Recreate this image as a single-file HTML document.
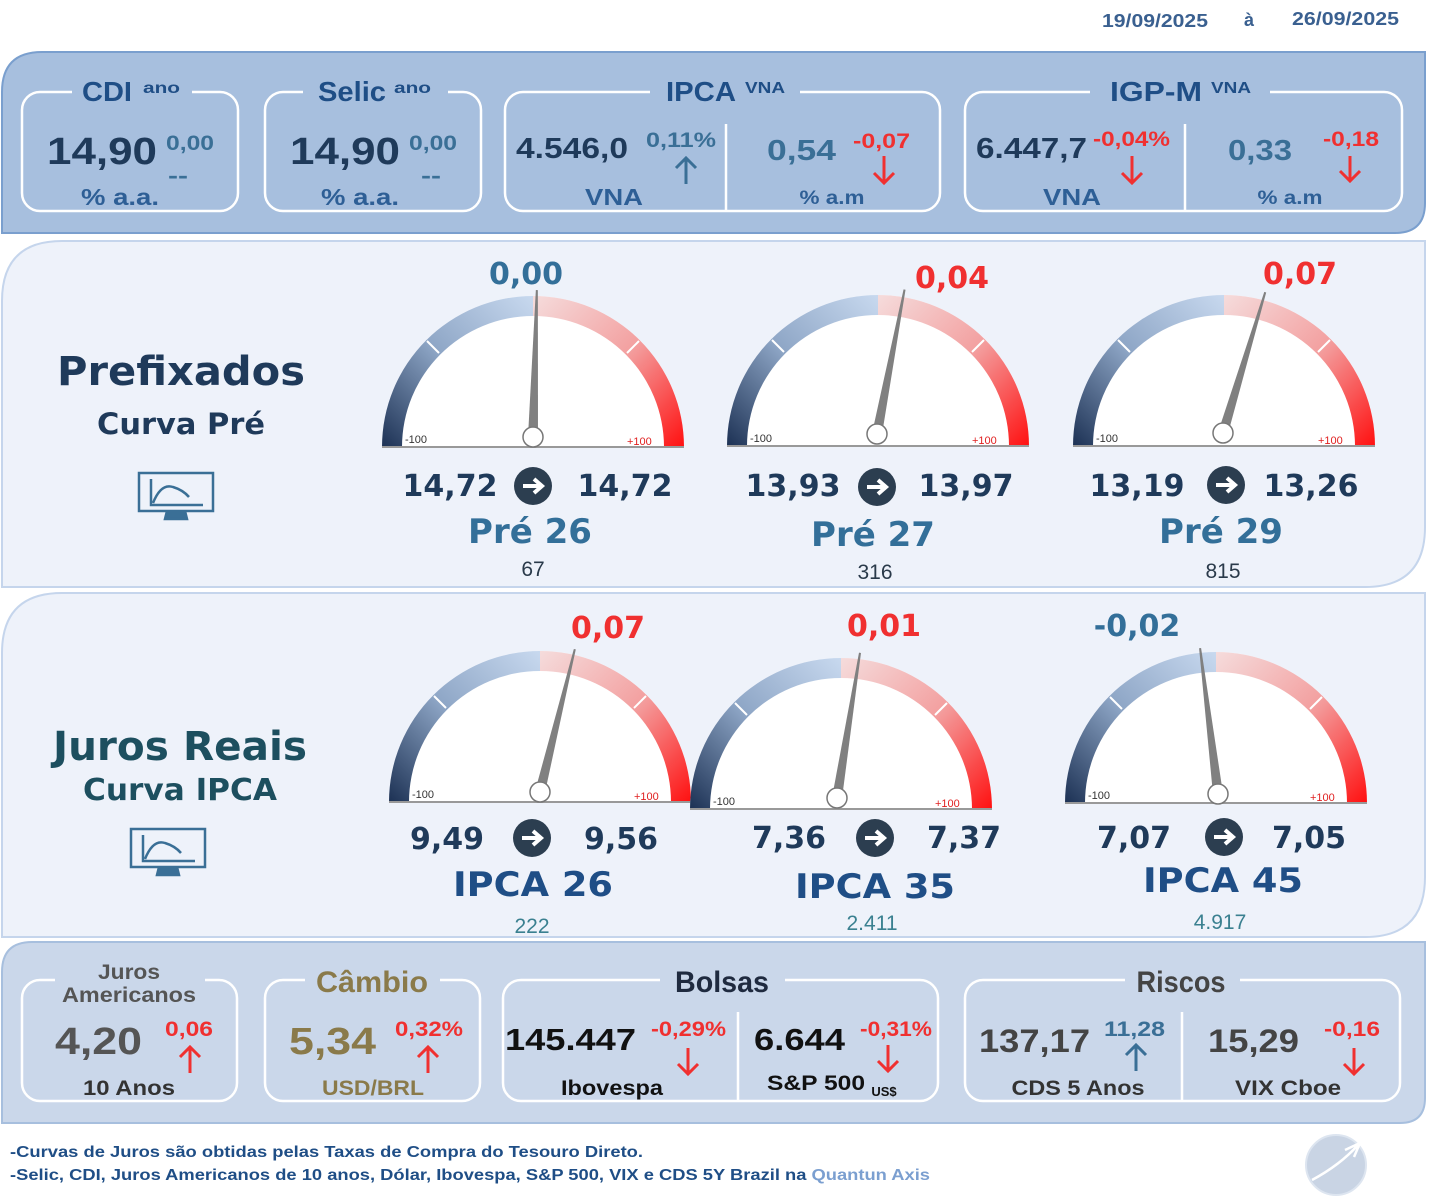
<!DOCTYPE html>
<html><head><meta charset="utf-8"><style>
html,body{margin:0;padding:0;background:#fff;}
svg{display:block;}
.n{font-family:"Liberation Sans Narrow","Liberation Sans",sans-serif;font-weight:bold;}
.a{font-family:"Liberation Sans",sans-serif;font-weight:bold;}
.d{font-family:"DejaVu Sans",sans-serif;font-weight:bold;}
.r{font-family:"Liberation Sans",sans-serif;}
</style></head><body>
<svg width="1448" height="1201" viewBox="0 0 1448 1201" xmlns="http://www.w3.org/2000/svg">
<defs>
<linearGradient id="lb" x1="0" y1="1" x2="1" y2="0"><stop offset="0" stop-color="#1c3154"/><stop offset="0.5" stop-color="#8ea6c6"/><stop offset="1" stop-color="#c8d9ef"/></linearGradient>
<linearGradient id="rr" x1="0" y1="0" x2="1" y2="1"><stop offset="0" stop-color="#f5dcdc"/><stop offset="0.5" stop-color="#f3a0a0"/><stop offset="1" stop-color="#ff1010"/></linearGradient>
<g id="gauge">
<path d="M-151 0 A151 151 0 0 1 151 0 Z" fill="#fff"/>
<path d="M-151 0 A151 151 0 0 1 0 -151 L0 -131 A131 131 0 0 0 -131 0 Z" fill="url(#lb)"/>
<path d="M0 -151 A151 151 0 0 1 151 0 L131 0 A131 131 0 0 0 0 -131 Z" fill="url(#rr)"/>
<line x1="-106" y1="-106" x2="-94" y2="-94" stroke="#fff" stroke-width="2"/>
<line x1="106" y1="-106" x2="94" y2="-94" stroke="#fff" stroke-width="2"/>
<line x1="-151" y1="0" x2="151" y2="0" stroke="#999" stroke-width="2"/>
<text x="-128" y="-4" font-size="11" fill="#333" class="r">-100</text>
<text x="94" y="-2" font-size="11" fill="#e02020" class="r">+100</text>
</g>
<g id="needle">
<polygon points="-5,-10 5,-10 1,-157 -1,-157" fill="#808080"/>
</g>
<g id="mon" fill="none" stroke="#3a6f96" stroke-width="2.5">
<rect x="0" y="0" width="74" height="38"/>
<path d="M12 6 V32 H64 M14 30 Q22 10 34 14 Q44 17 50 24"/>
<path d="M28 38 L26 46 H48 L46 38" fill="#3a6f96"/>
</g>
<g id="arr"><circle r="19" fill="#2c3e50"/><path d="M-10 0 H8 M1 -7 L9 0 L1 7" stroke="#fff" stroke-width="4" fill="none"/></g>
</defs>

<!-- header -->
<text x="1102" y="27" font-size="18" fill="#3a6090" class="a" textLength="106" lengthAdjust="spacingAndGlyphs">19/09/2025</text>
<text x="1244" y="26" font-size="18" fill="#3a6090" class="a">à</text>
<text x="1292" y="25" font-size="18" fill="#3a6090" class="a" textLength="107" lengthAdjust="spacingAndGlyphs">26/09/2025</text>

<!-- top panel -->
<path d="M42 52 H1425 V203 Q1425 233 1395 233 H2 V92 Q2 52 42 52 Z" fill="#a7bfde" stroke="#7a9fce" stroke-width="2"/>
<g fill="none" stroke="#fff" stroke-width="2.5">
<rect x="22" y="92" width="216" height="119" rx="18"/>
<rect x="265" y="92" width="216" height="119" rx="18"/>
<rect x="505" y="92" width="435" height="119" rx="18"/>
<rect x="965" y="92" width="437" height="119" rx="18"/>
<line x1="726" y1="124" x2="726" y2="210"/>
<line x1="1185" y1="124" x2="1185" y2="210"/>
</g>
<g fill="#a7bfde">
<rect x="72" y="82" width="120" height="20"/><rect x="303" y="82" width="145" height="20"/>
<rect x="650" y="82" width="150" height="20"/><rect x="1090" y="82" width="180" height="20"/>
</g>
<g class="n" fill="#1f4e86" lengthAdjust="spacingAndGlyphs">
<text x="82" y="101" font-size="28" textLength="50" lengthAdjust="spacingAndGlyphs">CDI</text><text x="143" y="93" font-size="16" textLength="37" lengthAdjust="spacingAndGlyphs">ano</text>
<text x="318" y="101" font-size="28" textLength="68" lengthAdjust="spacingAndGlyphs">Selic</text><text x="394" y="93" font-size="16" textLength="37" lengthAdjust="spacingAndGlyphs">ano</text>
<text x="666" y="101" font-size="28" textLength="70" lengthAdjust="spacingAndGlyphs">IPCA</text><text x="745" y="93" font-size="16" textLength="40" lengthAdjust="spacingAndGlyphs">VNA</text>
<text x="1110" y="101" font-size="28" textLength="92" lengthAdjust="spacingAndGlyphs">IGP-M</text><text x="1211" y="93" font-size="16" textLength="40" lengthAdjust="spacingAndGlyphs">VNA</text>
</g>
<g class="a" fill="#1f3a5a">
<text x="47" y="164" font-size="38" textLength="110" lengthAdjust="spacingAndGlyphs">14,90</text>
<text x="290" y="164" font-size="38" textLength="110" lengthAdjust="spacingAndGlyphs">14,90</text>
<text x="516" y="158" font-size="29" textLength="112" lengthAdjust="spacingAndGlyphs">4.546,0</text>
<text x="976" y="158" font-size="29" textLength="111" lengthAdjust="spacingAndGlyphs">6.447,7</text>
</g>
<g class="a" fill="#3a6f96">
<text x="166" y="150" font-size="21" textLength="48" lengthAdjust="spacingAndGlyphs">0,00</text><text x="168" y="183" font-size="22" textLength="20" lengthAdjust="spacingAndGlyphs">--</text>
<text x="409" y="150" font-size="21" textLength="48" lengthAdjust="spacingAndGlyphs">0,00</text><text x="421" y="183" font-size="22" textLength="20" lengthAdjust="spacingAndGlyphs">--</text>
<text x="646" y="147" font-size="21" textLength="70" lengthAdjust="spacingAndGlyphs">0,11%</text>
<text x="767" y="160" font-size="29" textLength="69" lengthAdjust="spacingAndGlyphs">0,54</text>
<text x="1228" y="160" font-size="29" textLength="64" lengthAdjust="spacingAndGlyphs">0,33</text>
</g>
<g class="a" fill="#2e5f96" text-anchor="middle">
<text x="120" y="205" font-size="23" textLength="78" lengthAdjust="spacingAndGlyphs">% a.a.</text>
<text x="360" y="205" font-size="23" textLength="78" lengthAdjust="spacingAndGlyphs">% a.a.</text>
<text x="614" y="205" font-size="23" textLength="58" lengthAdjust="spacingAndGlyphs">VNA</text>
<text x="832" y="204" font-size="19" textLength="65" lengthAdjust="spacingAndGlyphs">% a.m</text>
<text x="1072" y="205" font-size="23" textLength="58" lengthAdjust="spacingAndGlyphs">VNA</text>
<text x="1290" y="204" font-size="19" textLength="65" lengthAdjust="spacingAndGlyphs">% a.m</text>
</g>
<g class="a" fill="#f03030">
<text x="853" y="148" font-size="21" textLength="57" lengthAdjust="spacingAndGlyphs">-0,07</text>
<text x="1093" y="146" font-size="21" textLength="77" lengthAdjust="spacingAndGlyphs">-0,04%</text>
<text x="1323" y="146" font-size="21" textLength="56" lengthAdjust="spacingAndGlyphs">-0,18</text>
</g>
<g fill="none" stroke-width="3">
<path d="M686 184 V158 M676 168 L686 158 L696 168" stroke="#3a6f96"/>
<path d="M884 156 V183 M874 173 L884 183 L894 173" stroke="#f03030"/>
<path d="M1132 156 V183 M1122 173 L1132 183 L1142 173" stroke="#f03030"/>
<path d="M1350 156 V181 M1340 171 L1350 181 L1360 171" stroke="#f03030"/>
</g>

<!-- panel 1 -->
<path d="M62 241 H1425 V527 Q1425 587 1365 587 H2 V301 Q2 241 62 241 Z" fill="#eef2fa" stroke="#c5d5ec" stroke-width="2"/>
<text x="181" y="385" font-size="40" fill="#1f3a5a" class="d" text-anchor="middle" textLength="248" lengthAdjust="spacingAndGlyphs">Prefixados</text>
<text x="181" y="434" font-size="29" fill="#1f3a5a" class="d" text-anchor="middle" textLength="168" lengthAdjust="spacingAndGlyphs">Curva Pré</text>
<use href="#mon" x="139" y="473"/>

<use href="#gauge" x="533" y="447"/>
<use href="#needle" transform="translate(533 447) rotate(1.5 0 -10)"/>
<circle cx="533" cy="437" r="10" fill="#fff" stroke="#777" stroke-width="1.5"/>
<use href="#gauge" x="878" y="446"/>
<use href="#needle" transform="translate(877 444) rotate(10.8 0 -10)"/>
<circle cx="877" cy="434" r="10" fill="#fff" stroke="#777" stroke-width="1.5"/>
<use href="#gauge" x="1224" y="446"/>
<use href="#needle" transform="translate(1223 443) rotate(16.7 0 -10)"/>
<circle cx="1223" cy="433" r="10" fill="#fff" stroke="#777" stroke-width="1.5"/>

<g class="d" font-size="30" text-anchor="middle">
<text x="526" y="284" fill="#336f99">0,00</text>
<text x="952" y="288" fill="#f03030">0,04</text>
<text x="1300" y="284" fill="#f03030">0,07</text>
</g>
<g class="d" font-size="30" fill="#1f3a5a" text-anchor="middle">
<text x="450" y="496">14,72</text><text x="625" y="496">14,72</text>
<text x="793" y="496">13,93</text><text x="966" y="496">13,97</text>
<text x="1137" y="496">13,19</text><text x="1311" y="496">13,26</text>
</g>
<use href="#arr" x="533" y="486"/><use href="#arr" x="877" y="487"/><use href="#arr" x="1226" y="485"/>
<g class="d" font-size="34" fill="#336f99" text-anchor="middle">
<text x="530" y="543">Pré 26</text><text x="873" y="546">Pré 27</text><text x="1221" y="543">Pré 29</text>
</g>
<g class="r" font-size="21" fill="#2a3a4a" text-anchor="middle">
<text x="533" y="576">67</text><text x="875" y="579">316</text><text x="1223" y="578">815</text>
</g>

<!-- panel 2 -->
<path d="M62 593 H1425 V877 Q1425 937 1365 937 H2 V653 Q2 593 62 593 Z" fill="#eef2fa" stroke="#c5d5ec" stroke-width="2"/>
<text x="180" y="760" font-size="40" fill="#1d4f5f" class="d" text-anchor="middle" textLength="254" lengthAdjust="spacingAndGlyphs">Juros Reais</text>
<text x="180" y="800" font-size="30" fill="#1d4f5f" class="d" text-anchor="middle" textLength="194" lengthAdjust="spacingAndGlyphs">Curva IPCA</text>
<use href="#mon" x="131" y="829"/>

<use href="#gauge" x="540" y="802"/>
<use href="#needle" transform="translate(540 802) rotate(13.7 0 -10)"/>
<circle cx="540" cy="792" r="10" fill="#fff" stroke="#777" stroke-width="1.5"/>
<use href="#gauge" x="841" y="809"/>
<use href="#needle" transform="translate(837 808) rotate(9 0 -10)"/>
<circle cx="837" cy="798" r="10" fill="#fff" stroke="#777" stroke-width="1.5"/>
<use href="#gauge" x="1216" y="803"/>
<use href="#needle" transform="translate(1218 804) rotate(-7 0 -10)"/>
<circle cx="1218" cy="794" r="10" fill="#fff" stroke="#777" stroke-width="1.5"/>

<g class="d" font-size="30" text-anchor="middle">
<text x="608" y="638" fill="#f03030">0,07</text>
<text x="884" y="636" fill="#f03030">0,01</text>
<text x="1137" y="636" fill="#336f99">-0,02</text>
</g>
<g class="d" font-size="30" fill="#1f3a5a" text-anchor="middle">
<text x="447" y="849">9,49</text><text x="621" y="849">9,56</text>
<text x="789" y="848">7,36</text><text x="964" y="848">7,37</text>
<text x="1134" y="848">7,07</text><text x="1309" y="848">7,05</text>
</g>
<use href="#arr" x="532" y="838"/><use href="#arr" x="875" y="838"/><use href="#arr" x="1224" y="837"/>
<g class="d" font-size="34" fill="#1f4e86" text-anchor="middle">
<text x="533" y="896" textLength="160" lengthAdjust="spacingAndGlyphs">IPCA 26</text><text x="875" y="898" textLength="160" lengthAdjust="spacingAndGlyphs">IPCA 35</text><text x="1223" y="892" textLength="160" lengthAdjust="spacingAndGlyphs">IPCA 45</text>
</g>
<g class="r" font-size="21" fill="#3a8090" text-anchor="middle">
<text x="532" y="933">222</text><text x="872" y="930">2.411</text><text x="1220" y="929">4.917</text>
</g>

<!-- bottom panel -->
<path d="M32 942 H1425 V1098 Q1425 1123 1400 1123 H2 V972 Q2 942 32 942 Z" fill="#cad7ea" stroke="#a7bfde" stroke-width="2"/>
<g fill="none" stroke="#fff" stroke-width="2.5">
<rect x="22" y="980" width="215" height="121" rx="18"/>
<rect x="265" y="980" width="215" height="121" rx="18"/>
<rect x="503" y="980" width="435" height="121" rx="18"/>
<rect x="965" y="980" width="435" height="121" rx="18"/>
<line x1="738" y1="1012" x2="738" y2="1101"/>
<line x1="1182" y1="1012" x2="1182" y2="1101"/>
</g>
<g fill="#cad7ea">
<rect x="55" y="970" width="150" height="38"/><rect x="305" y="970" width="135" height="20"/>
<rect x="660" y="970" width="125" height="20"/><rect x="1125" y="970" width="115" height="20"/>
</g>
<g class="a" text-anchor="middle">
<text x="129" y="979" font-size="21" fill="#555" textLength="62" lengthAdjust="spacingAndGlyphs">Juros</text>
<text x="129" y="1002" font-size="21" fill="#555" textLength="134" lengthAdjust="spacingAndGlyphs">Americanos</text>
<text x="372" y="992" font-size="30" fill="#8a7a4a" textLength="112" lengthAdjust="spacingAndGlyphs">Câmbio</text>
<text x="722" y="992" font-size="30" fill="#1f2a3f" textLength="94" lengthAdjust="spacingAndGlyphs">Bolsas</text>
<text x="1181" y="992" font-size="30" fill="#444" textLength="89" lengthAdjust="spacingAndGlyphs">Riscos</text>
</g>
<g class="a">
<text x="55" y="1054" font-size="38" fill="#555" textLength="87" lengthAdjust="spacingAndGlyphs">4,20</text>
<text x="289" y="1054" font-size="38" fill="#8a7a4a" textLength="87" lengthAdjust="spacingAndGlyphs">5,34</text>
<text x="505" y="1050" font-size="31" fill="#111" textLength="131" lengthAdjust="spacingAndGlyphs">145.447</text>
<text x="754" y="1050" font-size="31" fill="#111" textLength="91" lengthAdjust="spacingAndGlyphs">6.644</text>
<text x="979" y="1052" font-size="32" fill="#444" textLength="111" lengthAdjust="spacingAndGlyphs">137,17</text>
<text x="1208" y="1052" font-size="32" fill="#444" textLength="91" lengthAdjust="spacingAndGlyphs">15,29</text>
</g>
<g class="a" font-size="21">
<text x="165" y="1036" fill="#f03030" textLength="48" lengthAdjust="spacingAndGlyphs">0,06</text>
<text x="395" y="1036" fill="#f03030" textLength="68" lengthAdjust="spacingAndGlyphs">0,32%</text>
<text x="651" y="1036" fill="#f03030" textLength="75" lengthAdjust="spacingAndGlyphs">-0,29%</text>
<text x="860" y="1036" fill="#f03030" textLength="72" lengthAdjust="spacingAndGlyphs">-0,31%</text>
<text x="1104" y="1036" fill="#3a6f96" textLength="61" lengthAdjust="spacingAndGlyphs">11,28</text>
<text x="1324" y="1036" fill="#f03030" textLength="56" lengthAdjust="spacingAndGlyphs">-0,16</text>
</g>
<g class="a" font-size="21" text-anchor="middle">
<text x="129" y="1095" fill="#333" textLength="92" lengthAdjust="spacingAndGlyphs">10 Anos</text>
<text x="373" y="1095" fill="#8a7a4a" textLength="102" lengthAdjust="spacingAndGlyphs">USD/BRL</text>
<text x="612" y="1095" fill="#111" textLength="102" lengthAdjust="spacingAndGlyphs">Ibovespa</text>
<text x="816" y="1090" fill="#111" textLength="98" lengthAdjust="spacingAndGlyphs">S&amp;P 500</text>
<text x="884" y="1096" fill="#111" font-size="13">US$</text>
<text x="1078" y="1095" fill="#333" textLength="133" lengthAdjust="spacingAndGlyphs">CDS 5 Anos</text>
<text x="1288" y="1095" fill="#333" textLength="106" lengthAdjust="spacingAndGlyphs">VIX Cboe</text>
</g>
<g fill="none" stroke-width="3">
<path d="M190 1073 V1047 M180 1057 L190 1047 L200 1057" stroke="#f03030"/>
<path d="M428 1073 V1047 M418 1057 L428 1047 L438 1057" stroke="#f03030"/>
<path d="M688 1048 V1074 M678 1064 L688 1074 L698 1064" stroke="#f03030"/>
<path d="M888 1045 V1071 M878 1061 L888 1071 L898 1061" stroke="#f03030"/>
<path d="M1136 1071 V1045 M1126 1055 L1136 1045 L1146 1055" stroke="#3a6f96"/>
<path d="M1354 1048 V1074 M1344 1064 L1354 1074 L1364 1064" stroke="#f03030"/>
</g>

<!-- footer -->
<g class="a" font-size="16" fill="#1f4e86">
<text x="10" y="1157" textLength="633" lengthAdjust="spacingAndGlyphs">-Curvas de Juros são obtidas pelas Taxas de Compra do Tesouro Direto.</text>
<text x="10" y="1180" textLength="920" lengthAdjust="spacingAndGlyphs">-Selic, CDI, Juros Americanos de 10 anos, Dólar, Ibovespa,  S&amp;P 500, VIX e CDS 5Y Brazil na <tspan fill="#7b9fd0">Quantun Axis</tspan></text>
</g>
<circle cx="1336" cy="1165" r="30" fill="#c9d4e4" stroke="#dde5f0" stroke-width="2"/>
<path d="M1312 1180 Q1340 1165 1358 1145 M1345 1150 L1360 1143 L1354 1157" stroke="#fff" stroke-width="2.5" fill="none"/>
</svg>
</body></html>
